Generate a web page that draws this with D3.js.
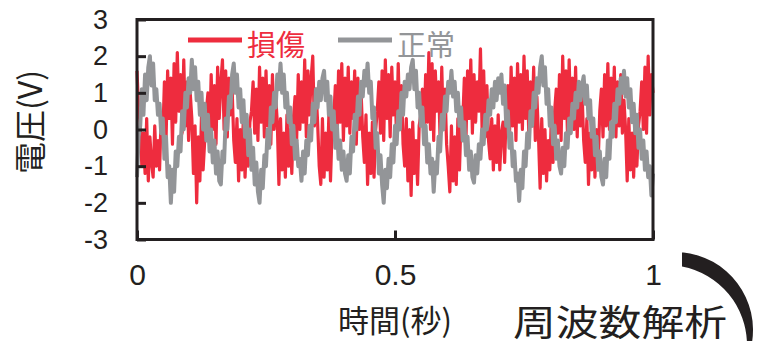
<!DOCTYPE html>
<html>
<head>
<meta charset="utf-8">
<script src="https://cdn.jsdelivr.net/npm/d3@7"></script>
<style>
  body { margin: 0; background: #fff; }
  svg { display: block; }
</style>
</head>
<body>
<script>
// voltage samples, 321 per series over 0..1 s
let damaged = [
  1.6, 0.5,
  0.2, -1.0, -0.1, -1.2, 0.3, -1.4, -0.2, -0.9, -1.3, 0.1, -1.0, -0.3, -1.1, 0.4,
  -0.2, 1.3, -0.3, 1.6, 0.3, 1.4, -0.4, 1.8, 0.2, 2.1, 0.5, 1.5, -0.1, 1.9, 0.1, 1.3, -0.3, 1.0,
  0.3, -1.2, 0.1, -2.0, -0.2, -1.4, 0.4, -1.1, -0.3, 0.5,
  1.0, -0.3, 1.5, 0.0, 1.2, -0.4, 1.7, 0.3, 1.3, 1.9, 0.0, 1.6, -0.2, 1.4, 0.4, 1.1, -0.3,
  -0.9, 0.3, -1.4, 0.0, -1.1, 0.4, -1.3, -0.2, -1.0, 0.2, 0.5,
  1.3, -0.1, 1.1, -0.3, 1.7, 0.2, 1.4, -0.2, 1.6, 0.1, 1.2, -0.4, 1.5, 0.0, 0.9,
  0.2, -1.5, 0.3, -1.1, -0.1, -1.3, 0.4, -1.0, 0.0, -1.2, 0.3,
  0.9, -0.3, 1.5, 0.0, 1.3, 0.2, 1.9, -0.2, 1.6, 0.4, 1.4, 2.0, 0.1, 1.1,
  0.2, -1.0, -1.5, 0.3, -1.3, -0.1, -1.1, 0.4, -1.4, 0.0, 0.3,
  1.2, -0.2, 1.6, 0.2, 1.8, -0.3, 1.4, 0.1, 1.7, -0.1, 1.3, 0.3, 1.6, -0.4, 1.4, 0.0, 1.0, -0.2,
  -0.9, 0.4, -1.5, -0.1, -1.2, 0.2, -1.3, 0.0, 0.5,
  1.3, -0.1, 1.6, -0.3, 1.9, 0.3, 1.5, -0.2, 1.7, 0.4, 1.3, -0.3, 1.8, 0.1, 1.2, -0.4,
  -1.0, 0.3, -1.4, 0.0, -1.8, 0.2, -1.2, -0.3, -1.5, 0.1, 0.4,
  1.1, -0.1, 1.5, 0.2, 2.1, 0.0, 1.8, -0.3, 1.6, 0.5, 1.3, -0.3, 1.7, 0.0, 1.1, -0.4,
  -1.0, -1.7, 0.1, -1.4, -0.2, -1.5, 0.3, -1.1, 0.4,
  0.2, 1.4, -0.3, 1.6, 0.3, 1.9, -0.1, 1.5, 0.2, 1.3, 0.5, 2.2, 0.0, 1.6, -0.2, 1.2, -0.3,
  -0.8, 0.3, -1.1, 0.1, -0.9, 0.4, -1.1, -0.1, 0.2, -0.9, 0.5,
  1.2, -0.2, 1.7, 0.1, 1.4, -0.3, 1.8, 0.2, 1.5, 0.0, 2.0, 0.3, 1.6, -0.2, 1.3, 0.1, 1.7, -0.3, 0.9,
  -0.2, -1.6, 0.3, -1.2, 0.0, -1.4, -0.3, -1.1, 0.4, -0.9, 0.5,
  1.1, -0.1, 1.5, -0.3, 2.0, 0.3, 1.6, -0.2, 1.9, 0.2, 1.4, 0.0, 1.7, -0.2, 1.3, 0.1, 1.0, -0.3,
  -0.9, 0.3, -1.5, -0.1, -1.1, 0.2, -1.3, 0.0, -0.9, 0.5,
  1.1, -0.2, 1.5, 0.1, 1.8, 0.0, 1.4, 0.3, 1.7, -0.2, 1.3, 0.1, 1.5, -0.1, 0.8,
  0.0, -1.4, 0.3, -1.1, -0.1, -1.3, 0.2, -1.0, 0.1, 0.5,
  1.3, 0.0, 1.7, -0.1, 2.0, 0.4, 1.5, 1.0
];
let normal = [
  -1.3, -0.2, 0.1, 1.1, 0.4, 1.5, 0.8, 1.7, 2.0,
  1.2, 1.8, 0.8, 1.1, 0.4, 0.7, -0.1, 0.3, -0.8, -0.2, -1.3, -1.0, -2.0,
  -1.1, -1.7, -0.6, -1.0, -0.2, -0.6, 0.5, 0.0, 1.0, 0.6, 1.4, 1.0, 1.9,
  1.1, 1.7, 0.8, 1.3, 0.4, 1.0, 0.0, 0.7, -0.3, 0.4, -0.6, 0.0, -0.9, -0.3, -1.2, -0.6, -1.4, -1.5,
  -0.6, -0.9, 0.3, 0.0, 0.9, 0.6, 1.5, 1.8,
  1.0, 1.5, 0.6, 1.1, 0.2, 0.8, -0.2, 0.4, -0.7, 0.0, -1.1, -0.5, -1.5, -0.9, -1.7, -2.0,
  -1.1, -1.6, -0.7, -1.0, 0.0, -0.5, 0.6, 0.2, 1.0, 0.6, 1.5, 1.1, 1.8,
  1.0, 1.5, 0.6, 1.0, 0.2, 0.6, -0.4, 0.1, -0.8, -0.3, -1.0, -0.8, -1.4,
  -0.6, -1.2, -0.3, -0.7, 0.1, -0.3, 0.7, 0.2, 1.1, 0.6, 1.3, 0.8, 1.4, 1.6,
  0.8, 1.3, 0.4, 0.9, 0.0, 0.5, -0.5, 0.1, -0.8, -0.3, -1.1, -0.6, -1.2, -1.4,
  -0.7, -1.2, -0.2, -0.6, 0.4, 0.0, 0.9, 0.4, 1.3, 0.9, 1.6, 1.2, 1.8,
  1.0, 1.3, 0.3, 0.6, -0.5, -0.1, -1.2, -0.7, -1.5, -2.0,
  -1.1, -1.6, -0.8, -1.3, -0.4, -0.9, 0.1, -0.4, 0.5, 0.0, 1.0, 0.4, 1.3, 0.9, 1.5, 1.1, 1.7, 1.9,
  1.1, 1.6, 0.6, 1.0, 0.1, 0.6, -0.4, 0.1, -0.9, -0.4, -1.2, -0.8, -1.7,
  -0.9, -1.2, -0.2, -0.6, 0.4, 0.0, 0.9, 0.5, 1.3, 1.0, 1.6,
  0.9, 1.3, 0.5, 1.0, 0.1, 0.6, -0.3, 0.2, -0.7, -0.2, -1.1, -0.6, -1.3, -1.45,
  -0.7, -1.2, -0.4, -0.8, 0.0, -0.4, 0.4, 0.0, 0.8, 0.4, 1.1, 0.6, 1.3, 0.8, 1.4, 1.0, 1.5,
  0.7, 1.2, 0.1, 0.5, -0.5, -0.1, -1.0, -0.6, -1.4, -1.2, -1.95,
  -1.1, -1.6, -0.6, -1.0, -0.1, -0.5, 0.5, 0.1, 1.0, 0.6, 1.4, 1.0, 1.7, 2.0,
  1.2, 1.7, 0.7, 1.1, 0.1, 0.6, -0.4, 0.1, -0.8, -0.3, -1.0, -1.2,
  -0.5, -1.0, -0.1, -0.5, 0.3, -0.1, 0.7, 0.3, 1.0, 0.6, 1.3, 0.8, 1.2, 1.45,
  0.7, 1.2, 0.3, 0.8, -0.2, 0.3, -0.7, -0.2, -1.1, -0.6, -1.3, -1.5,
  -0.8, -1.3, -0.3, -0.8, 0.2, -0.2, 0.7, 0.2, 1.1, 0.7, 1.4, 1.0, 1.6,
  0.9, 1.4, 0.6, 1.1, 0.2, 0.7, -0.1, 0.4, -0.5, 0.0, -0.8, -0.3, -1.1, -0.6, -1.3, -1.0, -1.8,
  -1.2
];
let seriesNames = ["損傷", "正常"];
let seriesColors = ["#ee2c3e", "#939598"];
let yTicks = [-3, -2, -1, 0, 1, 2, 3];
let xTicks = [0, 0.5, 1];

let width = 762,
  height = 341;

let svg = d3.select("body").append("svg")
  .attr("width", width)
  .attr("height", height);

let x = d3.scaleLinear().domain([0, 1]).range([137, 653]);
let y = d3.scaleLinear().domain([-3, 3]).range([239.5, 19.5]);

let toPoints = vals => vals.map((v, i) => [i / (vals.length - 1), v]);

let line = d3.line()
  .x(d => x(d[0]))
  .y(d => y(d[1]));

// red first, gray on top
[damaged, normal].forEach((vals, k) => {
  svg.append("path")
    .datum(toPoints(vals))
    .attr("d", line)
    .attr("fill", "none")
    .attr("stroke", seriesColors[k])
    .attr("stroke-width", k == 0 ? 3.2 : 4)
    .attr("stroke-linejoin", "round");
});

// axes with inward ticks
let yAxis = svg.append("g")
  .attr("transform", "translate(137,0)")
  .call(d3.axisLeft(y).tickValues(yTicks).tickSize(-9).tickPadding(29).tickFormat(d => String(d)));
let xAxis = svg.append("g")
  .attr("transform", "translate(0,239.5)")
  .call(d3.axisBottom(x).tickValues(xTicks).tickSize(-9).tickPadding(24).tickFormat(d => String(d)));

[yAxis, xAxis].forEach(g => {
  g.select(".domain").remove();
  g.selectAll("line").attr("stroke", "#231f20").attr("stroke-width", 3);
  g.selectAll("text")
    .attr("fill", "#231f20")
    .attr("font-family", "'Liberation Sans', Arial, sans-serif");
});
yAxis.selectAll("text").attr("font-size", 27);
xAxis.selectAll("text").attr("font-size", 30);

// frame
svg.append("rect")
  .attr("x", x(0))
  .attr("y", y(3))
  .attr("width", x(1) - x(0))
  .attr("height", y(-3) - y(3))
  .attr("fill", "none")
  .attr("stroke", "#231f20")
  .attr("stroke-width", 3);

let cjk = "'Noto Sans CJK JP', sans-serif";

// legend
let legend = svg.append("g");
seriesNames.forEach((name, k) => {
  let lx = 188 + k * 150;
  legend.append("line")
    .attr("x1", lx).attr("x2", lx + 54)
    .attr("y1", 40).attr("y2", 40)
    .attr("stroke", seriesColors[k])
    .attr("stroke-width", 5);
  legend.append("text")
    .attr("x", lx + 59)
    .attr("y", 43)
    .attr("dominant-baseline", "central")
    .attr("font-family", cjk)
    .attr("font-size", 29)
    .attr("fill", seriesColors[k])
    .text(name);
});

// axis titles
svg.append("text")
  .attr("transform", "translate(28,122) rotate(-90)")
  .attr("text-anchor", "middle")
  .attr("dominant-baseline", "central")
  .attr("font-family", cjk)
  .attr("font-size", 32)
  .attr("fill", "#231f20")
  .text("電圧(V)");

svg.append("text")
  .attr("x", 395)
  .attr("y", 318)
  .attr("text-anchor", "middle")
  .attr("dominant-baseline", "central")
  .attr("font-family", cjk)
  .attr("font-size", 31)
  .attr("fill", "#231f20")
  .text("時間(秒)");

svg.append("text")
  .attr("x", 620)
  .attr("y", 320)
  .attr("text-anchor", "middle")
  .attr("dominant-baseline", "central")
  .attr("font-family", cjk)
  .attr("font-size", 36)
  .attr("fill", "#231f20")
  .attr("textLength", 214)
  .attr("lengthAdjust", "spacingAndGlyphs")
  .text("周波数解析");

// black crescent arrow on the right
let arc = d3.path();
arc.moveTo(682, 252.3);
arc.arc(675, 330, 78, -1.481, 0.194);
arc.lineTo(747, 345);
arc.arc(667, 345, 80, 0, -1.382, true);
arc.closePath();
svg.append("path")
  .attr("d", arc.toString())
  .attr("fill", "#231f20");
</script>
</body>
</html>
